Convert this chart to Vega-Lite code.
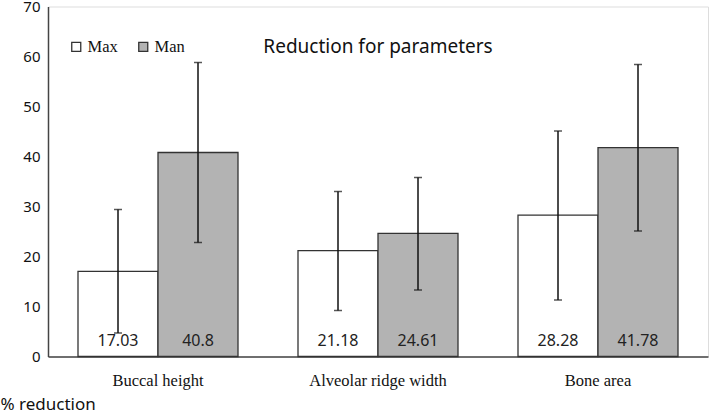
{
  "$schema": "https://vega.github.io/schema/vega-lite/v6.json",
  "width": 660,
  "height": 350,
  "autosize": {"type": "none"},
  "padding": {"left": 48, "top": 6.5, "right": 1, "bottom": 56.5},
  "background": "white",
  "title": {
    "text": "Reduction for parameters",
    "orient": "top",
    "anchor": "middle",
    "offset": -57,
    "font": "Noto Sans",
    "fontSize": 19,
    "fontWeight": "normal",
    "color": "#111111"
  },
  "data": {
    "values": [
      {"parameter": "Buccal height", "jaw": "Max", "value": 17.03, "lo": 4.7, "hi": 29.4},
      {"parameter": "Buccal height", "jaw": "Man", "value": 40.8, "lo": 22.8, "hi": 58.8},
      {"parameter": "Alveolar ridge width", "jaw": "Max", "value": 21.18, "lo": 9.2, "hi": 33.0},
      {"parameter": "Alveolar ridge width", "jaw": "Man", "value": 24.61, "lo": 13.3, "hi": 35.8},
      {"parameter": "Bone area", "jaw": "Max", "value": 28.28, "lo": 11.3, "hi": 45.1},
      {"parameter": "Bone area", "jaw": "Man", "value": 41.78, "lo": 25.1, "hi": 58.4}
    ]
  },
  "encoding": {
    "x": {
      "field": "parameter",
      "type": "nominal",
      "sort": ["Buccal height", "Alveolar ridge width", "Bone area"],
      "scale": {"paddingInner": 0, "paddingOuter": 0},
      "axis": {
        "title": null,
        "labelAngle": 0,
        "ticks": false,
        "labelPadding": 16,
        "labelFont": "Liberation Serif",
        "labelFontSize": 16.5,
        "labelColor": "#111111",
        "domainColor": "#444444",
        "domainWidth": 1.5
      }
    },
    "xOffset": {
      "field": "jaw",
      "type": "nominal",
      "sort": ["Max", "Man"],
      "scale": {"paddingInner": 0, "paddingOuter": 0.375}
    }
  },
  "layer": [
    {
      "mark": {"type": "bar", "stroke": "#333333", "strokeWidth": 1.3},
      "encoding": {
        "y": {
          "field": "value",
          "type": "quantitative",
          "scale": {"domain": [0, 70], "nice": false},
          "axis": {
            "values": [0, 10, 20, 30, 40, 50, 60, 70],
            "grid": false,
            "ticks": false,
            "labelPadding": 8,
            "labelFont": "Noto Sans",
            "labelFontSize": 15,
            "labelColor": "#111111",
            "domainColor": "#444444",
            "domainWidth": 1.5,
            "title": "% reduction",
            "titleAngle": 0,
            "titleAlign": "left",
            "titleBaseline": "alphabetic",
            "titleX": -48,
            "titleY": 403,
            "titleFont": "Noto Sans",
            "titleFontSize": 17,
            "titleFontWeight": "normal",
            "titleColor": "#111111"
          }
        },
        "fill": {
          "field": "jaw",
          "type": "nominal",
          "sort": ["Max", "Man"],
          "scale": {"domain": ["Max", "Man"], "range": ["#ffffff", "#b3b3b3"]},
          "legend": {
            "title": null,
            "orient": "none",
            "direction": "horizontal",
            "legendX": 20,
            "legendY": 32,
            "padding": 0,
            "symbolType": "square",
            "symbolSize": 81,
            "symbolStrokeColor": "#333333",
            "symbolStrokeWidth": 1.3,
            "labelFont": "Liberation Serif",
            "labelFontSize": 16.5,
            "labelColor": "#111111",
            "labelOffset": 3,
            "columnPadding": 17
          }
        }
      }
    },
    {
      "mark": {"type": "rule", "color": "#111111", "strokeWidth": 1.5},
      "encoding": {
        "y": {"field": "lo", "type": "quantitative"},
        "y2": {"field": "hi"}
      }
    },
    {
      "mark": {"type": "tick", "color": "#111111", "thickness": 1.5, "size": 8},
      "encoding": {"y": {"field": "lo", "type": "quantitative"}}
    },
    {
      "mark": {"type": "tick", "color": "#111111", "thickness": 1.5, "size": 8},
      "encoding": {"y": {"field": "hi", "type": "quantitative"}}
    },
    {
      "mark": {"type": "text", "font": "Noto Sans", "fontSize": 16, "color": "#222222", "baseline": "middle", "dy": -16},
      "encoding": {
        "y": {"datum": 0, "type": "quantitative"},
        "text": {"field": "value", "type": "quantitative"}
      }
    }
  ]
}
